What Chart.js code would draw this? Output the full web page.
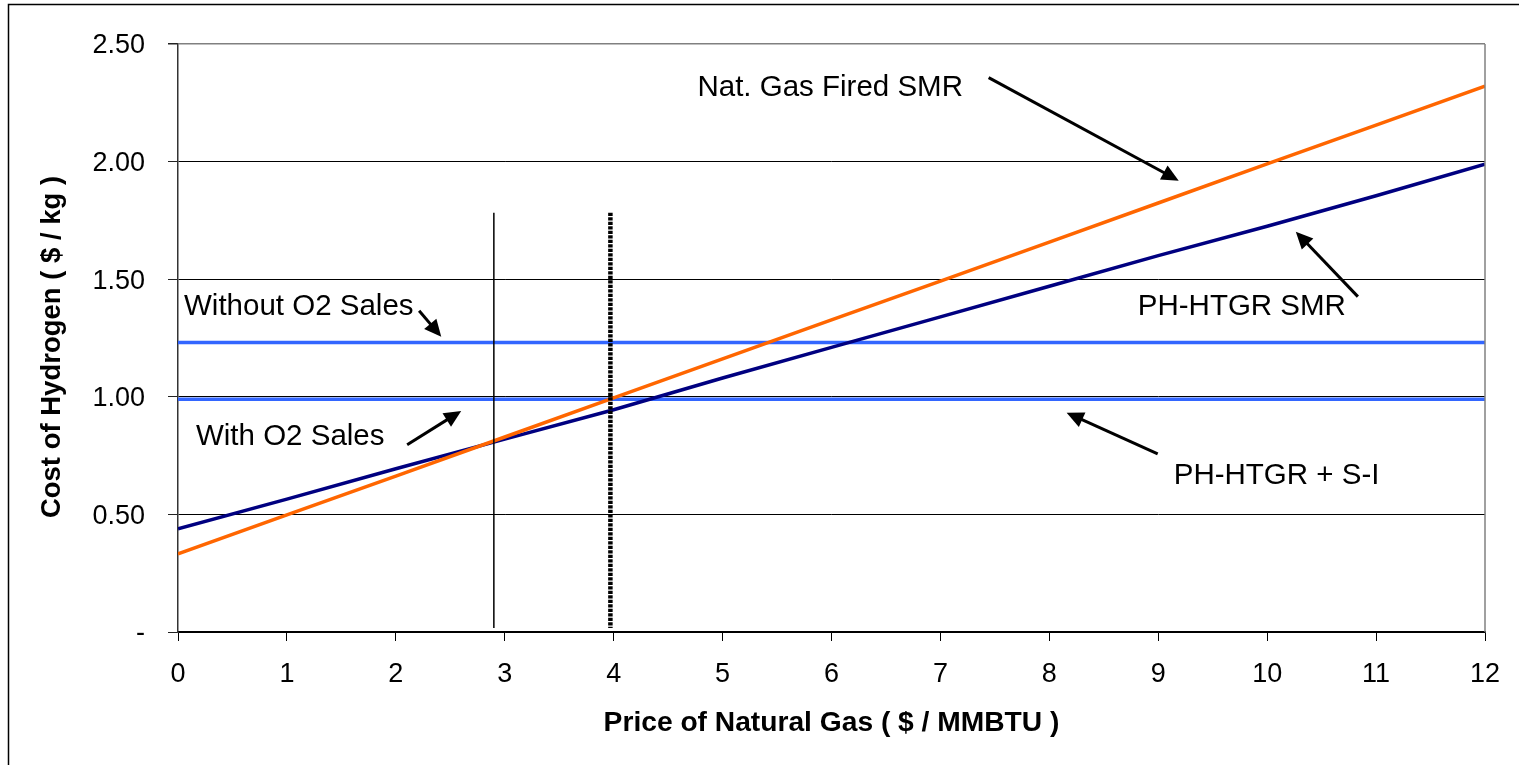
<!DOCTYPE html>
<html>
<head>
<meta charset="utf-8">
<script src="https://cdn.jsdelivr.net/npm/chart.js@4.4.1/dist/chart.umd.min.js"></script>
<style>
html,body{margin:0;padding:0;background:#fff;}
#wrap{width:1519px;height:765px;position:relative;}
</style>
</head>
<body>
<div id="wrap"><canvas id="c"></canvas></div>
<script>
// ---- Data ----
const gasPrices = [0,1,2,3,4,5,6,7,8,9,10,11,12];
const natGasSMR = [0.332,0.498,0.663,0.829,0.995,1.161,1.327,1.492,1.658,1.824,1.990,2.155,2.321];
const phHtgrSMR = [0.439,0.565,0.694,0.820,0.945,1.080,1.210,1.340,1.470,1.600,1.725,1.855,1.989];
const siRange = [0,12];
const withoutO2 = [1.231,1.231];
const withO2 = [0.990,0.990];
const markerSolidX = 2.90;
const markerDottedX = 3.97;
const markerY = [1.783,0.017];
const yTicks = [0,0.5,1.0,1.5,2.0,2.5];
const xTitle = 'Price of Natural Gas ( $ / MMBTU )';
const yTitle = 'Cost of Hydrogen ( $ / kg )';

// annotation labels: [text, x, y(baseline)] in data units
const labels = [
  ['Nat. Gas Fired SMR', 4.769, 2.277],
  ['PH-HTGR SMR', 8.812, 1.349],
  ['Without O2 Sales', 0.055, 1.349],
  ['With O2 Sales', 0.165, 0.796],
  ['PH-HTGR + S-I', 9.142, 0.630]
];
// arrows: [tailX, tailY, tipX, tipY] in data units
const arrows = [
  [7.443, 2.357, 9.188, 1.919],
  [10.833, 1.426, 10.263, 1.702],
  [2.214, 1.366, 2.417, 1.255],
  [2.104, 0.796, 2.600, 0.940],
  [8.995, 0.757, 8.159, 0.932]
];

const pts = (xs, ys) => xs.map((x,i)=>({x:x, y:ys[i]}));

const FONT = '"Liberation Sans", Arial, sans-serif';

const decor = {
  id:'decor',
  beforeDraw(chart){
    const c = chart.ctx;
    c.save();
    c.fillStyle='#fff';
    c.fillRect(0,0,chart.width,chart.height);
    c.strokeStyle='#000';
    c.lineWidth=1.5;
    c.beginPath();
    c.moveTo(8.5, chart.height+5);
    c.lineTo(8.5, 4.5);
    c.lineTo(chart.width+5, 4.5);
    c.stroke();
    c.restore();
  },
  afterDraw(chart){
    const c = chart.ctx, xs = chart.scales.x, ys = chart.scales.y, a = chart.chartArea;
    c.save();
    // right border
    c.strokeStyle='#808080'; c.lineWidth=1.5;
    c.beginPath(); c.moveTo(a.right, a.top); c.lineTo(a.right, a.bottom); c.stroke();
    // labels
    c.fillStyle='#000';
    c.font = '29.5px ' + FONT;
    c.textAlign='left'; c.textBaseline='alphabetic';
    labels.forEach(l=>{ c.fillText(l[0], xs.getPixelForValue(l[1]), ys.getPixelForValue(l[2])); });
    // arrows
    c.strokeStyle='#000'; c.lineWidth=3;
    arrows.forEach(ar=>{
      const x1=xs.getPixelForValue(ar[0]), y1=ys.getPixelForValue(ar[1]);
      const x2=xs.getPixelForValue(ar[2]), y2=ys.getPixelForValue(ar[3]);
      const ang=Math.atan2(y2-y1,x2-x1), hl=17, hw=8;
      const bx=x2-hl*Math.cos(ang), by=y2-hl*Math.sin(ang);
      c.beginPath(); c.moveTo(x1,y1); c.lineTo(bx+2*Math.cos(ang),by+2*Math.sin(ang)); c.stroke();
      c.beginPath();
      c.moveTo(x2,y2);
      c.lineTo(bx+hw*Math.sin(ang), by-hw*Math.cos(ang));
      c.lineTo(bx-hw*Math.sin(ang), by+hw*Math.cos(ang));
      c.closePath(); c.fill();
    });
    // axis titles
    c.font = 'bold 28.2px ' + FONT;
    c.textAlign='center'; c.textBaseline='middle';
    c.fillText(xTitle, (a.left+a.right)/2, 723);
    c.font = 'bold 27.5px ' + FONT;
    c.save();
    c.translate(52, 347);
    c.rotate(-Math.PI/2);
    c.fillText(yTitle, 0, 0);
    c.restore();
    c.restore();
  }
};

new Chart(document.getElementById('c'), {
  type:'scatter',
  data:{
    datasets:[
      {data: pts([markerDottedX,markerDottedX], markerY), showLine:true, borderColor:'#000', borderWidth:4.5, borderDash:[3.3,1.2], pointRadius:0},
      {data: pts([markerSolidX,markerSolidX], markerY), showLine:true, borderColor:'#000', borderWidth:1.5, pointRadius:0},
      {data: pts(gasPrices, natGasSMR), showLine:true, borderColor:'#ff6600', borderWidth:3.5, pointRadius:0},
      {data: pts(gasPrices, phHtgrSMR), showLine:true, borderColor:'#000080', borderWidth:3.5, pointRadius:0},
      {data: pts(siRange, withoutO2), showLine:true, borderColor:'#3366ff', borderWidth:3.5, pointRadius:0},
      {data: pts(siRange, withO2), showLine:true, borderColor:'#3366ff', borderWidth:3.5, pointRadius:0}
    ]
  },
  options:{
    responsive:true, maintainAspectRatio:false, animation:false, devicePixelRatio:1,
    layout:{padding:{top:44, right:34, left:0, bottom:0}},
    plugins:{legend:{display:false}, tooltip:{enabled:false}},
    scales:{
      x:{
        type:'linear', min:0, max:12,
        afterFit(s){ s.height = 133; },
        grid:{drawOnChartArea:false, tickLength:9, color:'#000', tickColor:'#000', lineWidth:1},
        border:{color:'#000', width:1.5},
        ticks:{stepSize:1, color:'#000', padding:17, font:{family:FONT, size:27}, maxRotation:0}
      },
      y:{
        min:0, max:2.5,
        afterFit(s){ s.width = 178; },
        afterBuildTicks(s){ s.ticks = yTicks.map(v=>({value:v})); },
        grid:{tickLength:10, color:(ctx)=> (ctx.tick && ctx.tick.value===2.5) ? '#808080' : '#000', tickColor:'#222', lineWidth:(ctx)=> (ctx.tick && ctx.tick.value===2.5) ? 1.5 : 1},
        border:{color:'#333', width:1.5},
        ticks:{color:'#000', padding:23, labelOffset:2, font:{family:FONT, size:27}, callback:(v)=> v===0 ? '-' : v.toFixed(2)}
      }
    }
  },
  plugins:[decor]
});
</script>
</body>
</html>
